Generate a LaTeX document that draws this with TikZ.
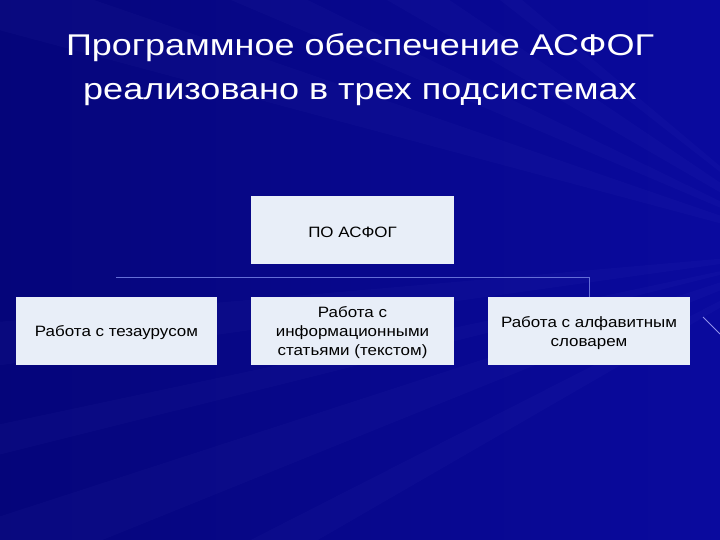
\documentclass[tikz,border=0pt]{standalone}
\usepackage{fontspec}
\setmainfont{Liberation Sans}
\usetikzlibrary{calc}
\definecolor{bgblue}{RGB}{10,10,158}
\definecolor{bgdark}{RGB}{5,5,122}
\definecolor{boxfill}{RGB}{232,238,248}
\definecolor{linecol}{RGB}{100,110,215}
\definecolor{raycol}{RGB}{160,160,255}
\begin{document}
\begin{tikzpicture}[x=1pt,y=-1pt,
  box/.style={draw=none,fill=boxfill,minimum width=203pt,minimum height=67pt,
    inner sep=0pt},
  boxtext/.style={align=center,font=\fontsize{15}{19}\selectfont,text=black,xscale=1.13,yshift=-2pt},
  titletext/.style={text=white,font=\fontsize{30}{44}\selectfont,xscale=1.2,anchor=base},
  conn/.style={draw=linecol,line width=0.8pt},
  ray/.style={fill=raycol,fill opacity=0.03}]
% background
\useasboundingbox (0,0) rectangle (720,540);
\shade[left color=bgdark,right color=bgblue] (0,0) rectangle (720,540);
\begin{scope}
\clip (0,0) rectangle (720,540);
\foreach \a/\b in {195/199,203/206,210/214,218/220,150/153,158/162,166/168,172/175}{
  \fill[ray] (820,250) -- ($(820,250)+(\a:1200)$) -- ($(820,250)+(\b:1200)$) -- cycle;
}
\end{scope}
\draw[raycol!80!white,line width=0.8pt,opacity=0.8] (703,317) -- (720,334);
% title
\node[titletext] (title1) at (360,56) {Программное обеспечение АСФОГ};
\node[titletext] (title2) at (360,100) {реализовано в трех подсистемах};
% boxes
\node[box] (top) at (352.5,230) {};
\node[boxtext] (toptext) at (top.center) {ПО АСФОГ};
\node[box,minimum width=201pt,minimum height=68pt] (left) at (116.5,331) {};
\node[boxtext] (lefttext) at (left.center) {Работа с тезаурусом};
\node[box,minimum height=68pt] (mid) at (352.5,331) {};
\node[boxtext] (midtext) at (mid.center) {Работа с\\информационными\\статьями (текстом)};
\node[box,minimum width=202pt,minimum height=68pt] (right) at (589,331) {};
\node[boxtext] (righttext) at (right.center) {Работа с алфавитным\\словарем};
% connectors
\coordinate (hl) at (116,277);
\draw[conn] (hl) -- (hl -| right.north) -- (right.north);
\end{tikzpicture}
\end{document}
